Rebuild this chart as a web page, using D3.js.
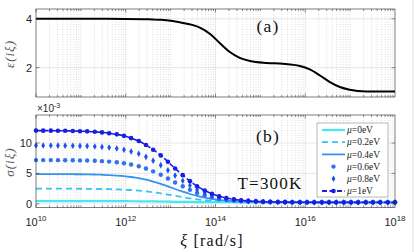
<!DOCTYPE html>
<html><head><meta charset="utf-8">
<script src="https://cdn.jsdelivr.net/npm/d3@7"></script>
<style>body{margin:0;background:#fff}svg{display:block}</style>
</head><body>
<svg id="c" width="415" height="252"></svg>
<script>
// ---------- DATA ----------
// log10 of xi [rad/s] for the sampled points (50 points, 10^10 .. 10^18)
const xiExp = [10.00,10.16,10.33,10.49,10.65,10.82,10.98,11.14,11.31,11.47,
  11.63,11.80,11.96,12.12,12.29,12.45,12.61,12.78,12.94,13.10,
  13.27,13.43,13.59,13.76,13.92,14.08,14.24,14.41,14.57,14.73,
  14.90,15.06,15.22,15.39,15.55,15.71,15.88,16.04,16.20,16.37,
  16.53,16.69,16.86,17.02,17.18,17.35,17.51,17.67,17.84,18.00];
// sigma(i xi) x 10^-3 for each chemical potential
const sigMu0  = [0.45,0.45,0.45,0.45,0.45,0.45,0.45,0.45,0.45,0.44,0.44,0.44,0.44,0.43,0.42,0.41,0.40,0.38,0.36,0.34,
  0.33,0.31,0.29,0.28,0.27,0.27,0.26,0.26,0.25,0.25,0.25,0.25,0.25,0.25,0.25,0.25,0.25,0.25,0.25,0.25,
  0.25,0.25,0.25,0.25,0.25,0.25,0.25,0.25,0.25,0.25];
const sigMu02 = [2.50,2.50,2.50,2.49,2.49,2.49,2.48,2.47,2.46,2.44,2.42,2.38,2.33,2.26,2.17,2.05,1.90,1.72,1.52,1.31,
  1.10,0.91,0.75,0.62,0.52,0.44,0.39,0.34,0.32,0.30,0.28,0.27,0.26,0.26,0.25,0.25,0.25,0.25,0.25,0.25,
  0.25,0.25,0.25,0.25,0.25,0.25,0.25,0.25,0.25,0.25];
const sigMu04 = [4.90,4.89,4.89,4.89,4.88,4.87,4.86,4.84,4.82,4.78,4.73,4.65,4.55,4.41,4.22,3.97,3.66,3.29,2.87,2.44,
  2.01,1.62,1.29,1.02,0.80,0.65,0.53,0.45,0.38,0.34,0.32,0.29,0.28,0.27,0.26,0.26,0.25,0.25,0.25,0.25,
  0.25,0.25,0.25,0.25,0.25,0.25,0.25,0.25,0.25,0.25];
const sigMu06 = [7.19,7.19,7.19,7.18,7.17,7.16,7.14,7.12,7.07,7.02,6.94,6.83,6.68,6.46,6.18,5.80,5.34,4.79,4.17,3.52,
  2.88,2.30,1.80,1.40,1.08,0.84,0.67,0.54,0.45,0.39,0.35,0.32,0.30,0.28,0.27,0.26,0.25,0.25,0.25,0.25,
  0.25,0.25,0.25,0.25,0.25,0.25,0.25,0.25,0.25,0.25];
const sigMu08 = [9.59,9.59,9.58,9.57,9.56,9.54,9.52,9.49,9.43,9.36,9.25,9.10,8.90,8.61,8.23,7.72,7.10,6.36,5.52,4.64,
  3.79,3.01,2.34,1.79,1.36,1.04,0.81,0.64,0.52,0.44,0.38,0.34,0.31,0.29,0.28,0.27,0.26,0.26,0.25,0.25,
  0.25,0.25,0.25,0.25,0.25,0.25,0.25,0.25,0.25,0.25];
const sigMu1  = [12.04,12.03,12.03,12.01,12.00,11.98,11.94,11.91,11.84,11.74,11.61,11.42,11.17,10.80,10.32,9.68,8.90,7.96,6.91,5.80,
  4.72,3.73,2.88,2.20,1.65,1.25,0.96,0.75,0.59,0.49,0.42,0.36,0.33,0.30,0.29,0.27,0.26,0.26,0.25,0.25,
  0.25,0.25,0.25,0.25,0.25,0.25,0.25,0.25,0.25,0.25];
// epsilon(i xi) curve
const epsExp = [10.0,11.0,12.0,12.5,12.75,13.0,13.25,13.5,13.65,13.88,14.1,14.32,14.54,14.77,15.14,15.5,15.88,16.1,16.33,16.55,16.77,16.99,17.36,18.0];
const epsVal = [4.00,4.00,3.995,3.985,3.96,3.92,3.84,3.74,3.64,3.38,3.00,2.64,2.40,2.27,2.19,2.16,2.07,1.93,1.68,1.41,1.21,1.10,1.03,1.02];
const legendLabels = ["=0eV","=0.2eV","=0.4eV","=0.6eV","=0.8eV","=1eV"];
const xTickExp = [10,12,14,16,18];
const epsTicks = [2,4];
const sigTicks = [0,5,10];

// ---------- LAYOUT ----------
const svg = d3.select("#c");
const L = 36, R = 395;
const x = d3.scaleLog().domain([1e10,1e18]).range([L,R]);
const yA = d3.scaleLinear().domain([0.8,4.4]).range([97,9]);
const yB = d3.scaleLinear().domain([-0.6,14.6]).range([207.5,115]);
const axisCol = "#262626";
const serif = "Liberation Serif, serif";

function panel(y, yTicks, majorX) {
  const [b,t] = y.range();
  const g = svg.append("g");
  for (let d=10; d<18; d++) {
    for (let m=1; m<=9; m++) {
      const v = m*Math.pow(10,d);
      if (m===1 && d%2===0) continue;
      g.append("line").attr("x1",x(v)).attr("x2",x(v)).attr("y1",t).attr("y2",b)
        .attr("stroke","#bdbdbd").attr("stroke-width",0.5).attr("stroke-dasharray","1,1.5");
    }
  }
  majorX.forEach(e=>{
    g.append("line").attr("x1",x(Math.pow(10,e))).attr("x2",x(Math.pow(10,e))).attr("y1",t).attr("y2",b)
      .attr("stroke","#dcdcdc").attr("stroke-width",0.7);
  });
  yTicks.forEach(v=>{
    g.append("line").attr("x1",L).attr("x2",R).attr("y1",y(v)).attr("y2",y(v))
      .attr("stroke","#dcdcdc").attr("stroke-width",0.7);
  });
  return g;
}
function frame(y, yTicks) {
  const [b,t] = y.range();
  const g = svg.append("g");
  for (let d=10; d<18; d++) {
    for (let m=1; m<=9; m++) {
      const v = m*Math.pow(10,d);
      const major = (m===1 && d%2===0);
      const len = major ? 3.5 : 2;
      g.append("line").attr("x1",x(v)).attr("x2",x(v)).attr("y1",b).attr("y2",b-len).attr("stroke",axisCol).attr("stroke-width",0.5);
      g.append("line").attr("x1",x(v)).attr("x2",x(v)).attr("y1",t).attr("y2",t+len).attr("stroke",axisCol).attr("stroke-width",0.5);
    }
  }
  yTicks.forEach(v=>{
    g.append("line").attr("x1",L).attr("x2",L+3.5).attr("y1",y(v)).attr("y2",y(v)).attr("stroke",axisCol).attr("stroke-width",0.5);
    g.append("line").attr("x1",R).attr("x2",R-3.5).attr("y1",y(v)).attr("y2",y(v)).attr("stroke",axisCol).attr("stroke-width",0.5);
    g.append("text").attr("x",L-4).attr("y",y(v)).attr("dy","0.35em").attr("text-anchor","end")
      .attr("font-family","Liberation Sans, Arial, sans-serif").attr("font-size",11).attr("fill",axisCol).text(v);
  });
  g.append("rect").attr("x",L).attr("y",t).attr("width",R-L).attr("height",b-t)
    .attr("fill","none").attr("stroke",axisCol).attr("stroke-width",0.6);
}

// ---------- PANEL (a) ----------
panel(yA, epsTicks, [12,14,16]);
svg.append("path")
  .datum(epsExp.map((e,i)=>[Math.pow(10,e), epsVal[i]]))
  .attr("fill","none").attr("stroke","#000").attr("stroke-width",2)
  .attr("d", d3.line().x(d=>x(d[0])).y(d=>yA(d[1])).curve(d3.curveMonotoneX));
frame(yA, epsTicks);
svg.append("text").attr("x",268).attr("y",32).attr("text-anchor","middle")
  .attr("font-family",serif).attr("font-size",17.5).attr("letter-spacing",1.2).attr("fill","#111").text("(a)");
svg.append("text").attr("transform","translate(14,54) rotate(-90)").attr("text-anchor","middle")
  .attr("font-family",serif).attr("font-style","italic").attr("font-size",13).attr("letter-spacing",1).attr("fill","#555")
  .text("ε(iξ)");

// ---------- PANEL (b) ----------
panel(yB, sigTicks, [12,14,16]);
const pts = arr => xiExp.map((e,i)=>[Math.pow(10,e), arr[i]]);
const lineB = d3.line().x(d=>x(d[0])).y(d=>yB(d[1])).curve(d3.curveMonotoneX);
const cols = ["#45e8f2","#35c3f5","#3395f0","#3070f2","#2050ee","#1a1ee0"];
const gB = svg.append("g");
gB.append("path").datum(pts(sigMu0)).attr("fill","none").attr("stroke",cols[0]).attr("stroke-width",2.2).attr("d",lineB);
gB.append("path").datum(pts(sigMu02)).attr("fill","none").attr("stroke",cols[1]).attr("stroke-width",1.8).attr("stroke-dasharray","6,4").attr("d",lineB);
gB.append("path").datum(pts(sigMu04)).attr("fill","none").attr("stroke",cols[2]).attr("stroke-width",1.8).attr("d",lineB);
gB.selectAll("circle.m06").data(pts(sigMu06)).join("circle").attr("class","m06")
  .attr("cx",d=>x(d[0])).attr("cy",d=>yB(d[1])).attr("r",2.2).attr("fill",cols[3]);
const diamond = "M0,-3.3L1.9,0L0,3.3L-1.9,0Z";
gB.selectAll("path.m08").data(pts(sigMu08)).join("path").attr("class","m08")
  .attr("transform",d=>`translate(${x(d[0])},${yB(d[1])})`).attr("d",diamond).attr("fill",cols[4]);
gB.append("path").datum(pts(sigMu1)).attr("fill","none").attr("stroke",cols[5]).attr("stroke-width",1.6).attr("stroke-dasharray","5,2.5").attr("d",lineB);
gB.selectAll("circle.m1").data(pts(sigMu1)).join("circle").attr("class","m1")
  .attr("cx",d=>x(d[0])).attr("cy",d=>yB(d[1])).attr("r",2.3).attr("fill",cols[5]);
frame(yB, sigTicks);

xTickExp.forEach(e=>{
  const t = svg.append("text").attr("x",x(Math.pow(10,e))).attr("y",226).attr("text-anchor","middle")
    .attr("font-family","Liberation Sans, Arial, sans-serif").attr("fill",axisCol);
  t.append("tspan").attr("font-size",11).text("10");
  t.append("tspan").attr("font-size",8).attr("dy",-5).text(e);
});
const ex = svg.append("text").attr("x",37).attr("y",112).attr("font-family","Liberation Sans, Arial, sans-serif").attr("fill",axisCol);
ex.append("tspan").attr("font-size",10).text("×10");
ex.append("tspan").attr("font-size",7).attr("dy",-4.5).text("-3");

svg.append("text").attr("transform","translate(14,162) rotate(-90)").attr("text-anchor","middle")
  .attr("font-family",serif).attr("font-style","italic").attr("font-size",13).attr("letter-spacing",1).attr("fill","#555")
  .text("σ(iξ)");
svg.append("text").attr("x",268).attr("y",142).attr("text-anchor","middle")
  .attr("font-family",serif).attr("font-size",17.5).attr("letter-spacing",1.2).attr("fill","#111").text("(b)");
svg.append("text").attr("x",270).attr("y",189).attr("text-anchor","middle")
  .attr("font-family",serif).attr("font-size",17).attr("letter-spacing",1.2).attr("fill","#111").text("T=300K");
const xl = svg.append("text").attr("x",212).attr("y",246).attr("text-anchor","middle")
  .attr("font-family",serif).attr("font-size",16).attr("letter-spacing",1.2).attr("fill","#111");
xl.append("tspan").attr("font-style","italic").text("ξ");
xl.append("tspan").text(" [rad/s]");

// legend
const lg = svg.append("g");
lg.append("rect").attr("x",317).attr("y",123).attr("width",71).attr("height",74)
  .attr("fill","#fff").attr("stroke","#8a8a8a").attr("stroke-width",0.6);
legendLabels.forEach((lab,i)=>{
  const yy = 130 + i*12.2;
  const x0 = 322, x1 = 345, xm = (x0+x1)/2;
  if (i<3 || i===5) {
    const ln = lg.append("line").attr("x1",x0).attr("x2",x1).attr("y1",yy).attr("y2",yy)
      .attr("stroke",cols[i]).attr("stroke-width", i===0?2.2:1.8);
    if (i===1) ln.attr("stroke-dasharray","6,4");
    if (i===5) ln.attr("stroke-dasharray","5,2.5");
  }
  if (i===3) lg.append("circle").attr("cx",xm).attr("cy",yy).attr("r",2.2).attr("fill",cols[3]);
  if (i===4) lg.append("path").attr("transform",`translate(${xm},${yy})`).attr("d",diamond).attr("fill",cols[4]);
  if (i===5) { lg.append("circle").attr("cx",xm).attr("cy",yy).attr("r",2.3).attr("fill",cols[5]); }
  const t = lg.append("text").attr("x",347).attr("y",yy).attr("dy","0.33em")
    .attr("font-family",serif).attr("font-size",9.5).attr("fill","#222");
  t.append("tspan").attr("font-style","italic").text("μ");
  t.append("tspan").text(lab);
});
svg.append("line").attr("x1",413).attr("x2",413).attr("y1",0).attr("y2",252).attr("stroke","#e0e0e0").attr("stroke-width",1);
</script>
</body></html>
